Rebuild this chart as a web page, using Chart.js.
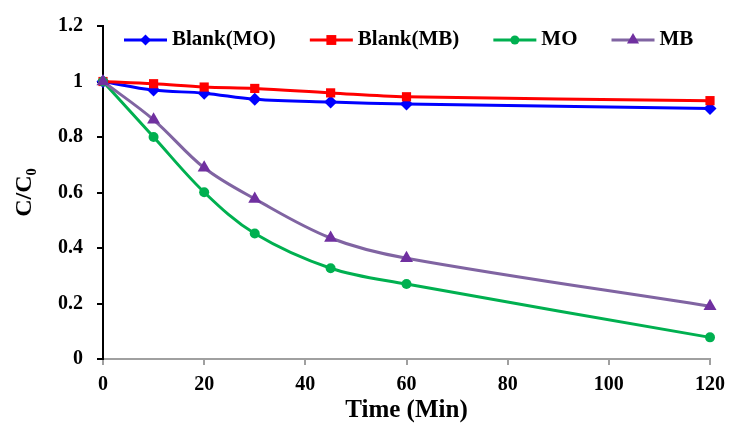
<!DOCTYPE html>
<html>
<head>
<meta charset="utf-8">
<script src="https://cdn.jsdelivr.net/npm/chart.js@4/dist/chart.umd.min.js"></script>
<style>
    body { margin: 0; background: #fff; }
    canvas { display: block; }
</style>
</head>
<body>
<canvas id="chart" width="729" height="426"></canvas>
<script>
// values
const times = [0, 10, 20, 30, 45, 60, 120];
const blankMO = [1.0, 0.969, 0.958, 0.936, 0.926, 0.919, 0.903];
const blankMB = [1.0, 0.992, 0.980, 0.975, 0.959, 0.945, 0.931];
const mo = [1.0, 0.800, 0.601, 0.452, 0.327, 0.270, 0.078];
const mb = [1.0, 0.862, 0.689, 0.577, 0.436, 0.363, 0.190];
const seriesNames = ['Blank(MO)', 'Blank(MB)', 'MO', 'MB'];

const serif = '"Liberation Serif", "Times New Roman", serif';

function toPoints(values) {
    return times.map((t, i) => ({ x: t, y: values[i] }));
}

function makeSeries(label, values, line, marker, style, radius, order) {
    return {
        label: label,
        data: toPoints(values),
        borderColor: line,
        backgroundColor: marker,
        pointBorderColor: marker,
        pointBackgroundColor: marker,
        pointStyle: style,
        pointRadius: radius,
        pointBorderWidth: 0,
        borderWidth: 3,
        tension: 0.35,
        clip: false,
        order: order
    };
}

// Excel-style legend sitting inside the plot, line sample with marker in the middle
const insideLegend = {
    id: 'insideLegend',
    afterDraw(chart) {
        const ctx = chart.ctx;
        const y = 40;
        const lineLen = 43;
        const sizes = [5.5, 7, 4.5, 7];
        let x = 124;
        ctx.save();
        ctx.font = 'bold 21px ' + serif;
        ctx.textBaseline = 'middle';
        chart.data.datasets.forEach((ds, i) => {
            ctx.strokeStyle = ds.borderColor;
            ctx.lineWidth = 3;
            ctx.beginPath();
            ctx.moveTo(x, y);
            ctx.lineTo(x + lineLen, y);
            ctx.stroke();
            ctx.fillStyle = ds.pointBackgroundColor;
            ctx.strokeStyle = ds.pointBorderColor;
            Chart.helpers.drawPoint(ctx, {
                pointStyle: ds.pointStyle,
                radius: sizes[i],
                borderWidth: 0,
                rotation: 0
            }, x + lineLen / 2, y);
            ctx.fillStyle = '#000';
            const tx = x + lineLen + 5;
            ctx.fillText(ds.label, tx, y);
            x = tx + ctx.measureText(ds.label).width + 34;
        });
        ctx.restore();
    }
};

new Chart(document.getElementById('chart'), {
    type: 'line',
    data: {
        datasets: [
            makeSeries(seriesNames[0], blankMO, '#0000FF', '#0000FF', 'rectRot', 6.5, 4),
            makeSeries(seriesNames[1], blankMB, '#FF0000', '#FF0000', 'rect', 6.5, 3),
            makeSeries(seriesNames[2], mo, '#00B050', '#00B050', 'circle', 5, 2),
            makeSeries(seriesNames[3], mb, '#8064A2', '#7030A0', 'triangle', 7.5, 1)
        ]
    },
    options: {
        responsive: false,
        animation: false,
        layout: { padding: { left: 0, right: 19, top: 25, bottom: 0 } },
        plugins: {
            legend: { display: false },
            tooltip: { enabled: false }
        },
        scales: {
            x: {
                type: 'linear',
                min: 0,
                max: 120,
                ticks: {
                    stepSize: 20,
                    padding: 8,
                    color: '#000',
                    font: { family: serif, size: 20, weight: 'bold' }
                },
                grid: { drawOnChartArea: false, tickLength: 6, color: '#A0A0A0', lineWidth: 2 },
                border: { color: '#A0A0A0', width: 2 },
                title: {
                    display: true,
                    text: 'Time (Min)',
                    color: '#000',
                    padding: { top: 0, bottom: 0 },
                    font: { family: serif, size: 25, weight: 'bold' }
                },
                afterFit(scale) {
                    scale.height = 67;
                    scale.paddingLeft = 0;
                    scale.paddingRight = 0;
                }
            },
            y: {
                min: 0,
                max: 1.2,
                ticks: {
                    stepSize: 0.2,
                    padding: 14,
                    color: '#000',
                    font: { family: serif, size: 20, weight: 'bold' },
                    callback: v => String(+v.toFixed(1))
                },
                grid: { drawOnChartArea: false, tickLength: 6, color: '#000', lineWidth: 2 },
                border: { color: '#000', width: 2 },
                title: {
                    display: true,
                    text: 'C/C₀',
                    color: '#000',
                    padding: { top: 10, bottom: 0 },
                    font: { family: serif, size: 24, weight: 'bold' }
                },
                afterFit(scale) { scale.width = 103; }
            }
        }
    },
    plugins: [insideLegend]
});
</script>
</body>
</html>
